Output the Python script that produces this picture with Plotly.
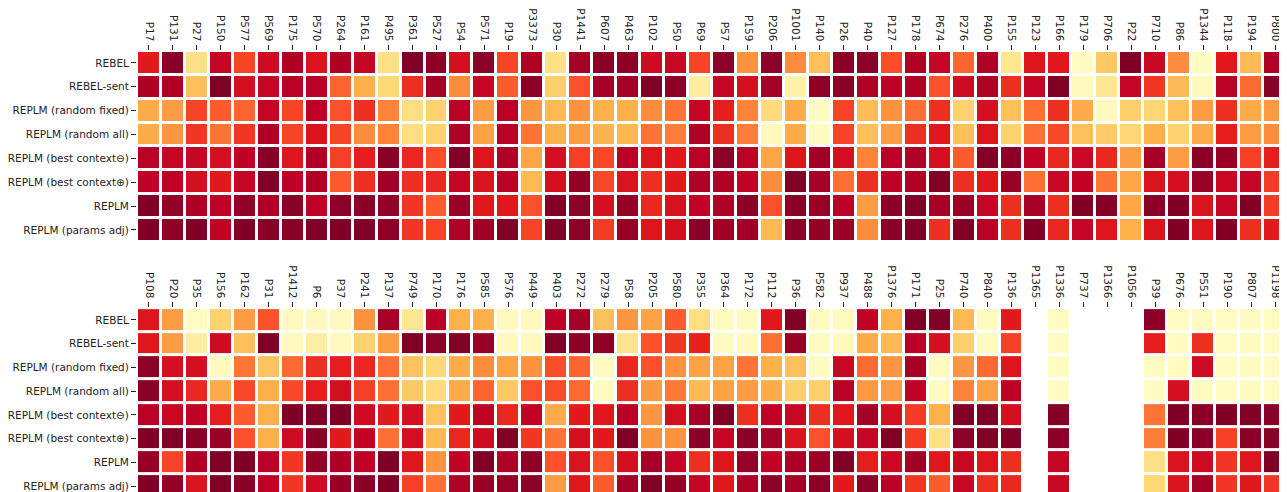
import plotly.graph_objects as go

methods = ["REBEL", "REBEL-sent", "REPLM (random fixed)", "REPLM (random all)",
           "REPLM (best context\u2296)", "REPLM (best context\u2295)", "REPLM", "REPLM (params adj)"]

cols_top = ["P17", "P131", "P27", "P150", "P577", "P569", "P175", "P570", "P264", "P161", "P495", "P361",
            "P527", "P54", "P571", "P19", "P3373", "P30", "P1441", "P607", "P463", "P102", "P50", "P69",
            "P57", "P159", "P206", "P1001", "P140", "P26", "P40", "P127", "P178", "P674", "P276", "P400",
            "P155", "P123", "P166", "P179", "P706", "P22", "P710", "P86", "P1344", "P118", "P194", "P800"]

cols_bottom = ["P108", "P20", "P35", "P156", "P162", "P31", "P1412", "P6", "P37", "P241", "P137", "P749",
               "P170", "P176", "P585", "P576", "P449", "P403", "P272", "P279", "P58", "P205", "P580", "P355",
               "P364", "P172", "P112", "P36", "P582", "P937", "P488", "P1376", "P171", "P25", "P740", "P840",
               "P136", "P1365", "P1336", "P737", "P1366", "P1056", "P39", "P676", "P551", "P190", "P807", "P1198"]

N = None

# ---- top panel values (one list per method) ----
top_rebel = [0.75, 0.98, 0.2, 0.85, 0.65, 0.82, 0.9, 0.78, 0.9, 0.85, 0.2, 1.0, 0.97, 0.8, 0.98, 0.65,
             0.9, 0.2, 0.92, 0.98, 0.97, 0.82, 0.84, 0.65, 0.98, 0.48, 0.98, 0.5, 0.33, 0.98, 0.98, 0.63,
             0.9, 0.85, 0.58, 0.9, 0.17, 0.77, 0.76, 0.03, 0.3, 1.0, 0.84, 0.5, 0.03, 0.76, 0.35, 0.9]
top_rebel_sent = [0.9, 0.9, 0.33, 1.0, 0.8, 0.85, 0.88, 0.88, 0.58, 0.38, 0.25, 0.7, 0.92, 0.5, 0.85, 0.6,
                  0.97, 0.28, 0.62, 0.92, 0.92, 1.0, 0.97, 0.12, 0.85, 0.8, 0.92, 0.1, 0.97, 0.98, 0.9, 0.87,
                  0.9, 0.62, 0.82, 0.9, 0.7, 0.85, 1.0, 0.04, 0.17, 0.85, 0.68, 0.35, 0.04, 0.88, 0.57, 0.98]
top_random_fixed = [0.4, 0.45, 0.65, 0.6, 0.58, 0.85, 0.65, 0.87, 0.62, 0.7, 0.52, 0.22, 0.27, 0.88, 0.45, 0.88,
                    0.47, 0.35, 0.48, 0.38, 0.38, 0.5, 0.55, 0.85, 0.74, 0.52, 0.23, 0.4, 0.03, 0.65, 0.34, 0.48,
                    0.56, 0.7, 0.27, 0.8, 0.33, 0.56, 0.7, 0.4, 0.04, 0.28, 0.26, 0.33, 0.45, 0.7, 0.4, 0.46]
top_random_all = [0.4, 0.47, 0.68, 0.55, 0.68, 0.9, 0.65, 0.78, 0.65, 0.5, 0.52, 0.22, 0.27, 0.9, 0.43, 0.88,
                  0.55, 0.38, 0.45, 0.37, 0.36, 0.55, 0.53, 0.9, 0.7, 0.53, 0.04, 0.4, 0.03, 0.65, 0.33, 0.45,
                  0.7, 0.76, 0.33, 0.77, 0.27, 0.56, 0.64, 0.33, 0.29, 0.26, 0.38, 0.27, 0.4, 0.74, 0.45, 0.5]
top_best_minus = [0.88, 0.85, 0.85, 0.8, 0.87, 0.98, 0.77, 0.9, 0.66, 0.74, 0.98, 0.72, 0.63, 1.0, 0.77, 0.9,
                  0.42, 0.8, 0.66, 0.64, 0.88, 0.77, 0.76, 0.88, 0.98, 0.88, 0.42, 0.77, 0.93, 0.8, 0.52, 0.88,
                  0.9, 0.8, 0.6, 0.99, 0.98, 0.86, 0.72, 0.83, 0.72, 0.45, 0.92, 0.45, 0.98, 0.95, 0.66, 0.74]
top_best_plus = [0.87, 0.87, 0.8, 0.75, 0.85, 1.0, 0.87, 0.9, 0.6, 0.7, 0.93, 0.7, 0.72, 0.85, 0.78, 0.88,
                 0.35, 0.8, 0.96, 0.64, 0.78, 0.7, 0.75, 0.9, 0.9, 0.86, 0.5, 1.0, 0.92, 0.56, 0.7, 0.87,
                 0.9, 1.0, 0.7, 0.76, 0.95, 0.56, 0.84, 0.86, 0.55, 0.42, 0.78, 0.8, 0.95, 0.84, 0.85, 0.67]
top_replm = [1.0, 0.96, 0.9, 0.87, 0.96, 0.9, 0.98, 0.87, 0.97, 0.98, 0.96, 0.68, 0.6, 0.94, 0.76, 0.76,
             0.62, 1.0, 0.98, 0.8, 0.96, 0.72, 0.79, 0.86, 0.9, 0.98, 0.62, 0.98, 0.95, 0.88, 0.45, 0.98,
             1.0, 0.92, 0.94, 0.85, 0.7, 0.92, 0.7, 1.0, 0.99, 0.42, 0.98, 1.0, 0.78, 0.85, 1.0, 0.67]
top_params_adj = [1.0, 0.97, 1.0, 0.86, 1.0, 0.98, 0.98, 1.0, 1.0, 1.0, 0.97, 0.68, 0.65, 0.9, 0.93, 1.0,
                  0.65, 1.0, 0.98, 0.67, 0.95, 0.77, 0.8, 0.98, 0.93, 0.93, 0.35, 0.98, 0.96, 0.94, 0.5, 0.98,
                  1.0, 0.7, 1.0, 0.88, 0.7, 1.0, 0.72, 0.85, 0.77, 0.38, 0.78, 1.0, 0.77, 1.0, 0.7, 0.75]

# ---- bottom panel values ----
bot_rebel = [0.77, 0.45, 0.03, 0.27, 0.45, 0.62, 0.04, 0.04, 0.04, 0.48, 0.92, 0.17, 0.88, 0.38, 0.38, 0.04,
             0.04, 0.87, 0.92, 0.33, 0.47, 0.43, 0.6, 0.22, 0.03, 0.03, 0.76, 1.0, 0.03, 0.03, 0.87, 0.38,
             1.0, 1.0, 0.35, 0.03, 0.75, N, 0.03, N, N, N, 0.98, 0.03, 0.03, 0.03, 0.03, 0.03]
bot_rebel_sent = [0.76, 0.45, 0.12, 0.82, 0.33, 1.0, 0.04, 0.12, 0.04, 0.27, 0.45, 1.0, 0.98, 1.0, 0.95, 0.04,
                  0.04, 1.0, 0.97, 0.97, 0.18, 0.62, 0.68, 0.73, 0.03, 0.04, 0.56, 0.95, 0.03, 0.04, 0.4, 0.35,
                  0.88, 0.8, 0.28, 0.03, 0.66, N, 0.03, N, N, N, 0.74, 0.03, 0.7, 0.03, 0.03, 0.03]
bot_random_fixed = [0.97, 0.8, 0.8, 0.04, 0.55, 0.32, 0.57, 0.7, 0.74, 0.72, 0.56, 0.32, 0.25, 0.4, 0.5, 0.43,
                    0.48, 0.63, 0.58, 0.03, 0.72, 0.62, 0.48, 0.43, 0.43, 0.55, 0.38, 0.33, 0.03, 0.84, 0.57, 0.47,
                    0.92, 0.03, 0.47, 0.57, 0.77, N, 0.03, N, N, N, 0.03, 0.03, 0.82, 0.03, 0.03, 0.03]
bot_random_all = [0.98, 0.8, 0.72, 0.4, 0.64, 0.38, 0.64, 0.74, 0.8, 0.66, 0.56, 0.3, 0.23, 0.4, 0.58, 0.3,
                  0.62, 0.63, 0.57, 0.03, 0.7, 0.46, 0.54, 0.35, 0.43, 0.45, 0.4, 0.28, 0.28, 0.88, 0.46, 0.45,
                  0.87, 0.03, 0.52, 0.43, 0.87, N, 0.03, N, N, N, 0.03, 0.8, 0.03, 0.03, 0.03, 0.03]
bot_best_minus = [0.88, 0.84, 0.86, 0.74, 0.6, 0.38, 1.0, 1.0, 1.0, 0.82, 0.75, 0.8, 0.32, 0.75, 0.87, 0.72,
                  0.86, 0.4, 0.75, 0.76, 0.88, 0.47, 0.8, 0.92, 1.0, 0.7, 0.87, 0.84, 0.7, 0.76, 0.92, 0.8,
                  0.67, 0.38, 1.0, 1.0, 0.8, N, 0.99, N, N, N, 0.55, 1.0, 0.98, 1.0, 1.0, 0.98]
bot_best_plus = [1.0, 1.0, 0.98, 0.95, 0.62, 0.38, 0.82, 0.98, 0.75, 0.86, 0.56, 0.8, 0.35, 0.72, 0.82, 1.0,
                 0.68, 0.55, 0.8, 0.75, 1.0, 0.48, 0.48, 0.98, 0.85, 0.98, 0.92, 0.78, 0.62, 0.8, 0.85, 1.0,
                 0.67, 0.2, 0.98, 1.0, 1.0, N, 0.98, N, N, N, 0.53, 1.0, 0.98, 0.66, 0.98, 0.98]
bot_replm = [0.95, 0.65, 0.9, 1.0, 1.0, 0.88, 0.68, 0.96, 0.9, 0.87, 1.0, 0.76, 0.48, 0.86, 1.0, 0.9,
             0.97, 0.62, 0.78, 0.62, 0.8, 0.92, 0.85, 0.7, 0.77, 0.96, 0.86, 0.91, 0.94, 1.0, 0.74, 0.83,
             0.93, 0.76, 0.84, 0.77, 0.7, N, 0.85, N, N, N, 0.2, 0.78, 0.82, 0.68, 0.77, 1.0]
bot_params_adj = [1.0, 0.96, 0.78, 1.0, 0.98, 0.87, 0.68, 0.82, 0.95, 0.98, 1.0, 0.66, 0.56, 0.9, 0.95, 0.96,
                  0.98, 0.45, 0.76, 0.6, 0.92, 1.0, 0.96, 0.85, 0.76, 0.9, 0.98, 0.92, 0.97, 0.75, 0.98, 0.88,
                  0.68, 0.6, 0.84, 0.7, 0.72, N, 0.84, N, N, N, 0.25, 0.78, 0.92, 0.68, 0.76, 0.68]

top_rows = [top_rebel, top_rebel_sent, top_random_fixed, top_random_all,
            top_best_minus, top_best_plus, top_replm, top_params_adj]
bot_rows = [bot_rebel, bot_rebel_sent, bot_random_fixed, bot_random_all,
            bot_best_minus, bot_best_plus, bot_replm, bot_params_adj]

ylorrd = ["#ffffcc", "#ffeda0", "#fed976", "#feb24c", "#fd8d3c",
          "#fc4e2a", "#e31a1c", "#bd0026", "#800026"]
cscale = [[i / (len(ylorrd) - 1), c] for i, c in enumerate(ylorrd)]

font = dict(family="DejaVu Sans", size=10.5, color="#222222")

fig = go.Figure()
fig.add_trace(go.Heatmap(z=top_rows, x=list(range(len(cols_top))), y=list(range(len(methods))),
                         colorscale=cscale, zmin=0, zmax=1, showscale=False, xgap=3, ygap=3,
                         xaxis="x", yaxis="y"))
fig.add_trace(go.Heatmap(z=bot_rows, x=list(range(len(cols_bottom))), y=list(range(len(methods))),
                         colorscale=cscale, zmin=0, zmax=1, showscale=False, xgap=3, ygap=3,
                         xaxis="x2", yaxis="y2", hoverongaps=False))

# page body adds an 8px offset, so the figure is 8px smaller and margins shifted
W, H = 1279, 484
mt, mb = 38, 0
ph = H - mt - mb
top_dom = [1 - 193 / ph, 1]
bot_dom = [0, (492 - 306) / ph]

common_x = dict(side="top", tickangle=90, ticks="outside", ticklen=5, tickwidth=1, tickcolor="#222222",
                showgrid=False, zeroline=False, showline=False, range=[-0.5, 47.5], tickfont=font)
common_y = dict(ticks="outside", ticklen=5, tickwidth=1, tickcolor="#222222", showgrid=False,
                zeroline=False, showline=False, tickfont=font,
                tickvals=list(range(len(methods))), ticktext=methods)

fig.update_layout(
    width=W, height=H,
    margin=dict(l=128, r=0, t=mt, b=mb, pad=0),
    paper_bgcolor="white", plot_bgcolor="white",
    font=font,
    xaxis=dict(common_x, domain=[0, 1], anchor="y",
               tickvals=list(range(len(cols_top))), ticktext=cols_top),
    yaxis=dict(common_y, domain=top_dom, anchor="x", range=[7.5, -0.5]),
    xaxis2=dict(common_x, domain=[0, 1], anchor="y2",
                tickvals=list(range(len(cols_bottom))), ticktext=cols_bottom),
    yaxis2=dict(common_y, domain=bot_dom, anchor="x2", range=[7.25, -0.5]),
)

fig.write_html("out.html")
